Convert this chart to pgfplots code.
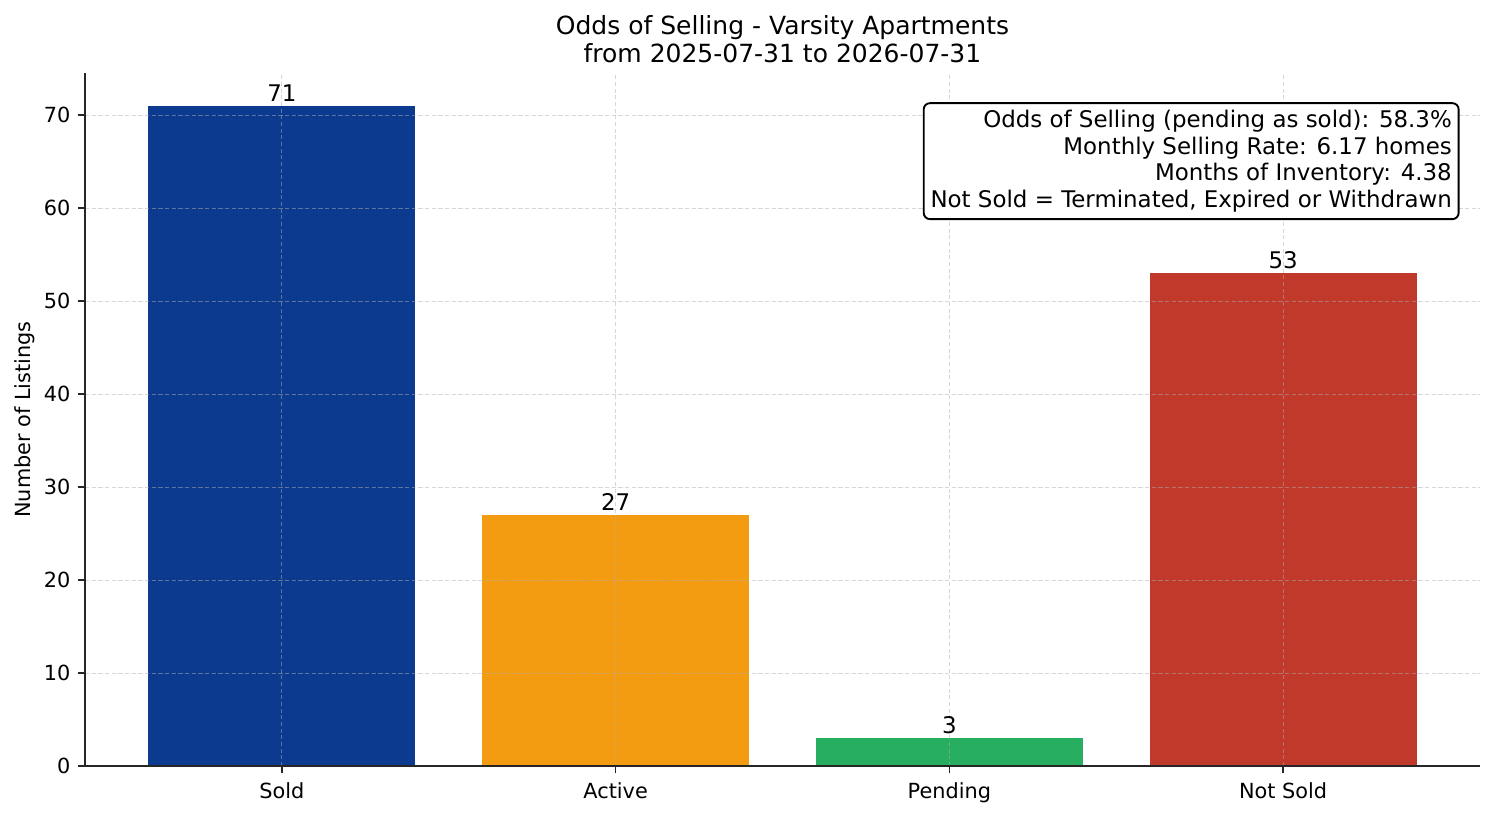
\documentclass[border=0pt]{standalone}
\usepackage{fontspec}
\setmainfont{DejaVu Sans}
\usepackage{pgfplots}
\pgfplotsset{compat=1.18}

\definecolor{soldblue}{HTML}{0B3A8F}
\definecolor{activeorange}{HTML}{F39C12}
\definecolor{pendinggreen}{HTML}{27AE60}
\definecolor{notsoldred}{HTML}{C0392B}
\definecolor{spine}{HTML}{262626}
\definecolor{gridgray}{HTML}{B0B0B0}

\begin{document}
\begin{tikzpicture}[
  bar label/.style={font=\fontsize{11}{13}\selectfont, inner sep=0pt, anchor=south, yshift=2pt},
]
\useasboundingbox (0,0) rectangle (717.12pt,391.68pt);

\begin{axis}[
  at={(40.8pt,24pt)},
  anchor=south west,
  scale only axis,
  width={669.6pt},
  height={332.64pt},
  axis on top,
  axis x line=bottom,
  axis y line=left,
  axis line style={-, draw=spine, line width=0.8pt},
  tick style={draw=spine, line width=0.8pt},
  tick align=outside,
  major tick length=3.5pt,
  grid=major,
  major grid style={dash pattern=on 2pt off 1.2pt, draw=gridgray, draw opacity=0.5, line width=0.4pt},
  xmin=-0.59, xmax=3.59,
  ymin=0, ymax=74.55,
  xtick={0,1,2,3},
  xticklabels={Sold,Active,Pending,Not Sold},
  ytick={0,10,20,30,40,50,60,70},
  ticklabel style={font=\fontsize{10}{12}\selectfont},
  xticklabel style={yshift=-1pt},
  /pgf/number format/assume math mode=true,
  ybar,
  bar width=0.8,
  bar shift=0pt,
  nodes near coords,
  nodes near coords style={bar label},
]
\addplot[fill=soldblue, draw=none] coordinates {(0,71)};
\addplot[fill=activeorange, draw=none] coordinates {(1,27)};
\addplot[fill=pendinggreen, draw=none] coordinates {(2,3)};
\addplot[fill=notsoldred, draw=none] coordinates {(3,53)};
\end{axis}

% annotation box drawn after the axis so it sits over the grid
\node[anchor=north east, draw=black, line width=0.9pt, rounded corners=3pt,
  fill=white, inner sep=3.3pt, align=right,
  font=\fontsize{11}{12.8}\selectfont]
  at (700.6pt,342.6pt)
  {Odds of Selling (pending as sold): 58.3\%\\
   Monthly Selling Rate: 6.17 homes\\
   Months of Inventory: 4.38\\
   Not Sold = Terminated, Expired or Withdrawn};

\node[align=center, font=\fontsize{12}{13.5}\selectfont] at (375.6pt,372.96pt)
  {Odds of Selling - Varsity Apartments\\from 2025-07-31 to 2026-07-31};
\node[rotate=90, font=\fontsize{10}{12}\selectfont] at (12pt,190.32pt) {Number of Listings};
\end{tikzpicture}
\end{document}
